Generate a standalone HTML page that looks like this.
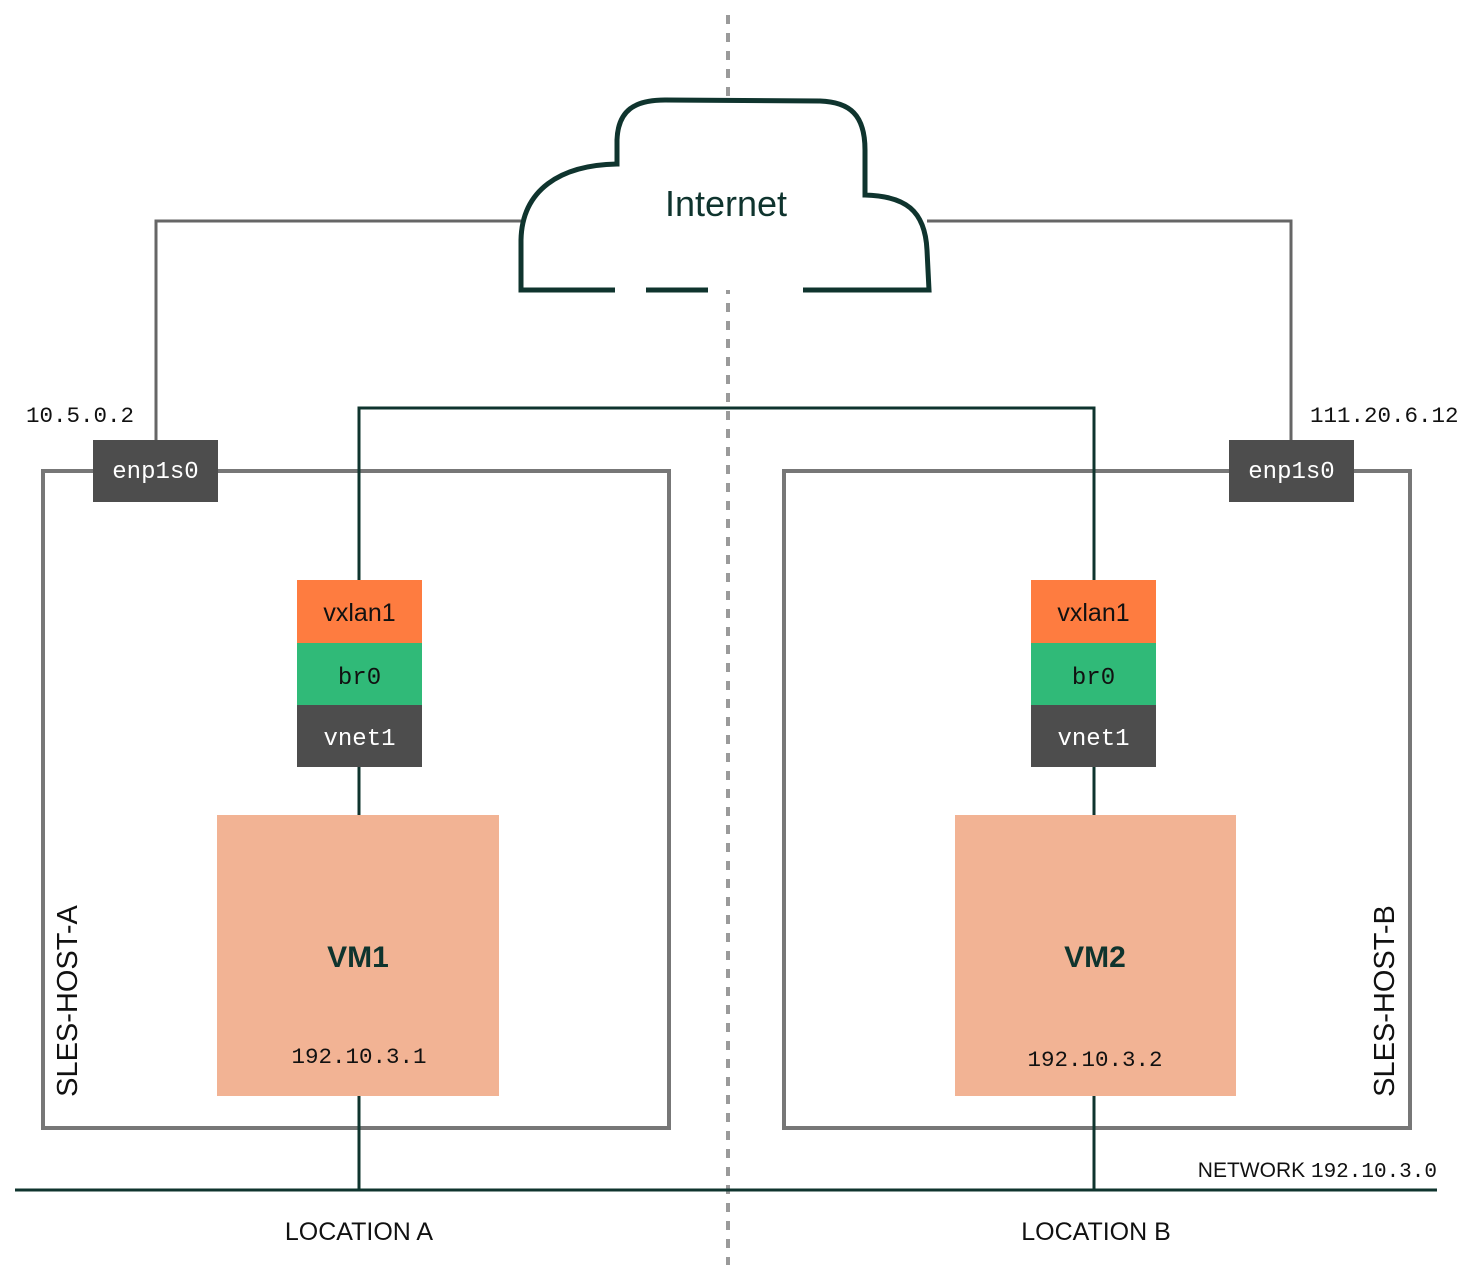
<!DOCTYPE html>
<html><head><meta charset="utf-8"><style>
html,body{margin:0;padding:0;background:#fff;}
svg{display:block;}
.m{font-family:"Liberation Mono",monospace;}
.s{font-family:"Liberation Sans",sans-serif;}
</style></head><body>
<svg width="1474" height="1287" viewBox="0 0 1474 1287" xmlns="http://www.w3.org/2000/svg">
<line x1="728" y1="15" x2="728" y2="1265" stroke="#9a9a9a" stroke-width="4" stroke-dasharray="9,9"/>
<polyline points="156,440 156,221 521,221" fill="none" stroke="#666" stroke-width="3"/>
<polyline points="1291,440 1291,221 927,221" fill="none" stroke="#666" stroke-width="3"/>
<path d="M521,290 L521,240 C522,190 560,165 617,164 L617,140 C618,110 635,100 665,100 L820,101 C850,102 865,115 865,150 L865,195 C905,196 925,210 927,250 L929,290 Z" fill="#fff" stroke="none"/>
<path d="M615,290 L521,290 L521,240 C522,190 560,165 617,164 L617,140 C618,110 635,100 665,100 L820,101 C850,102 865,115 865,150 L865,195 C905,196 925,210 927,250 L929,290 L803,290" fill="none" stroke="#0f342e" stroke-width="5"/>
<line x1="646" y1="290" x2="708" y2="290" stroke="#0f342e" stroke-width="5"/>
<text x="726" y="216" text-anchor="middle" class="s" font-size="36" fill="#0f342e">Internet</text>
<rect x="43" y="471" width="626" height="657" fill="none" stroke="#777" stroke-width="4"/>
<rect x="784" y="471" width="626" height="657" fill="none" stroke="#777" stroke-width="4"/>
<polyline points="359,580 359,408 1094,408 1094,580" fill="none" stroke="#0f342e" stroke-width="3"/>
<line x1="359" y1="767" x2="359" y2="815" stroke="#0f342e" stroke-width="3"/>
<line x1="1094" y1="767" x2="1094" y2="815" stroke="#0f342e" stroke-width="3"/>
<line x1="359" y1="1096" x2="359" y2="1190" stroke="#0f342e" stroke-width="3"/>
<line x1="1094" y1="1096" x2="1094" y2="1190" stroke="#0f342e" stroke-width="3"/>
<line x1="15" y1="1190" x2="1437" y2="1190" stroke="#0f342e" stroke-width="3"/>
<rect x="93" y="440" width="125" height="62" fill="#4d4d4d"/>
<text x="155.5" y="478" text-anchor="middle" class="m" font-size="24" fill="#fff">enp1s0</text>
<rect x="1229" y="440" width="125" height="62" fill="#4d4d4d"/>
<text x="1291.5" y="478" text-anchor="middle" class="m" font-size="24" fill="#fff">enp1s0</text>
<text x="26" y="422" class="m" font-size="22.5" fill="#111">10.5.0.2</text>
<text x="1310" y="422" class="m" font-size="22.5" fill="#111">111.20.6.12</text>
<g>
<rect x="297" y="580" width="125" height="63" fill="#fe7c40"/>
<rect x="297" y="643" width="125" height="62" fill="#30ba78"/>
<rect x="297" y="705" width="125" height="62" fill="#4d4d4d"/>
<text x="359.5" y="621" text-anchor="middle" class="s" font-size="25" fill="#111">vxlan1</text>
<text x="359.5" y="684" text-anchor="middle" class="m" font-size="24" fill="#111">br0</text>
<text x="359.5" y="745" text-anchor="middle" class="m" font-size="24" fill="#fff">vnet1</text>
</g>
<g>
<rect x="1031" y="580" width="125" height="63" fill="#fe7c40"/>
<rect x="1031" y="643" width="125" height="62" fill="#30ba78"/>
<rect x="1031" y="705" width="125" height="62" fill="#4d4d4d"/>
<text x="1093.5" y="621" text-anchor="middle" class="s" font-size="25" fill="#111">vxlan1</text>
<text x="1093.5" y="684" text-anchor="middle" class="m" font-size="24" fill="#111">br0</text>
<text x="1093.5" y="745" text-anchor="middle" class="m" font-size="24" fill="#fff">vnet1</text>
</g>
<rect x="217" y="815" width="282" height="281" fill="#f2b394"/>
<text x="358" y="967" text-anchor="middle" class="s" font-size="30" font-weight="bold" fill="#0f342e">VM1</text>
<text x="359" y="1063" text-anchor="middle" class="m" font-size="22.5" fill="#111">192.10.3.1</text>
<rect x="955" y="815" width="281" height="281" fill="#f2b394"/>
<text x="1095" y="967" text-anchor="middle" class="s" font-size="30" font-weight="bold" fill="#0f342e">VM2</text>
<text x="1095" y="1066" text-anchor="middle" class="m" font-size="22.5" fill="#111">192.10.3.2</text>
<text transform="translate(77,1001) rotate(-90)" text-anchor="middle" class="s" font-size="29" fill="#111">SLES-HOST-A</text>
<text transform="translate(1394,1001) rotate(-90)" text-anchor="middle" class="s" font-size="29" fill="#111">SLES-HOST-B</text>
<text x="1437" y="1177" text-anchor="end" class="s" font-size="21" fill="#111">NETWORK <tspan class="m">192.10.3.0</tspan></text>
<text x="359" y="1240" text-anchor="middle" class="s" font-size="25" fill="#111">LOCATION A</text>
<text x="1096" y="1240" text-anchor="middle" class="s" font-size="25" fill="#111">LOCATION B</text>
</svg>
</body></html>
